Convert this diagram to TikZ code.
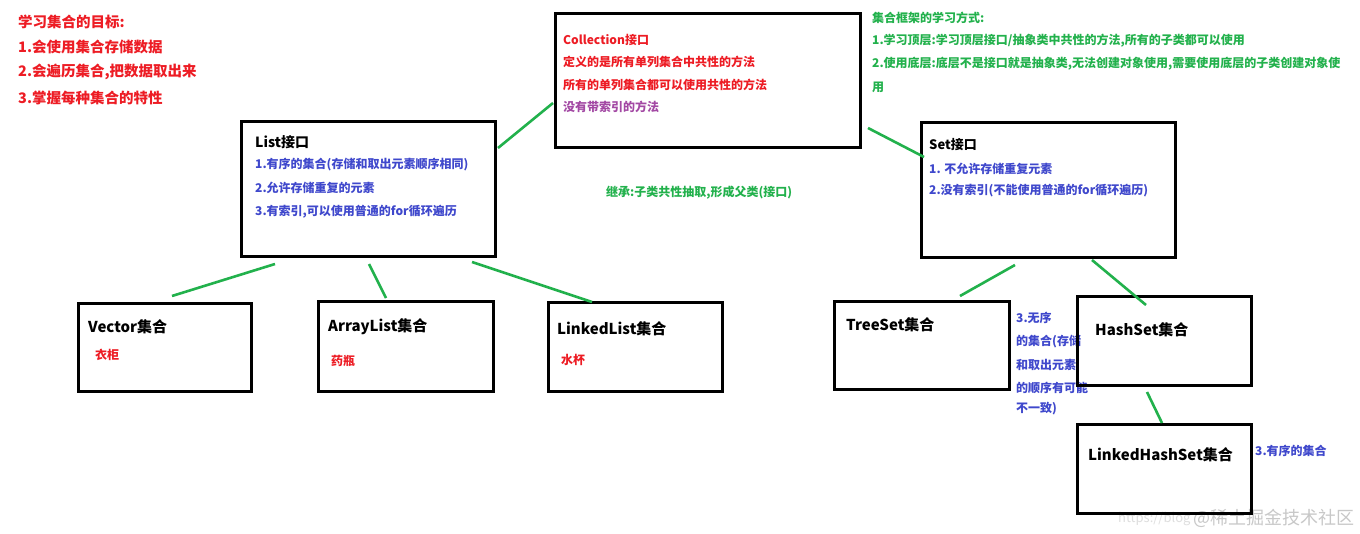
\documentclass[tikz,border=0pt]{standalone}
\usepackage{fontspec}
\setmainfont{Noto Sans CJK SC}
\definecolor{pred}{RGB}{237,28,36}
\definecolor{pblue}{RGB}{63,72,204}
\definecolor{pgreen}{RGB}{34,177,76}
\definecolor{ppurple}{RGB}{163,73,164}
\definecolor{wmark}{RGB}{200,200,200}
\begin{document}
\begin{tikzpicture}[x=1pt,y=-1pt,
  box/.style={draw=black, line width=3pt, inner sep=0pt, fill=none},
  link/.style={draw=pgreen, line width=2.6pt},
  txt/.style={anchor=west, inner sep=0pt, font=\bfseries\fontsize{12}{14}\selectfont},
  head/.style={anchor=west, inner sep=0pt, text=black, font=\bfseries\fontsize{15}{17}\selectfont},
  goal/.style={anchor=west, inner sep=0pt, text=pred, font=\bfseries\fontsize{14.5}{17}\selectfont}]
\useasboundingbox (0,0) rectangle (1360,534);
\fill[white] (0,0) rectangle (1360,534);

% goals
\node[goal] (g0) at (18,22) {学习集合的目标:};
\node[goal] (g1) at (18,47) {1.会使用集合存储数据};
\node[goal] (g2) at (18,72) {2.会遍历集合,把数据取出来};
\node[goal] (g3) at (18,98) {3.掌握每种集合的特性};

% TreeSet/HashSet note (drawn under the HashSet box)
\node[txt, text=pblue] (n0) at (1016,318) {3.无序};
\node[txt, text=pblue] (n1) at (1016,342) {的集合(存储};
\node[txt, text=pblue] (n2) at (1016,365) {和取出元素};
\node[txt, text=pblue] (n3) at (1016,388) {的顺序有可能};
\node[txt, text=pblue] (n4) at (1016,409) {不一致)};
\node[txt, text=pblue] (n5) at (1255,451) {3.有序的集合};

% watermark
\node[anchor=west, inner sep=0pt, text=wmark!60, font=\fontsize{13}{15}\selectfont] (wm0) at (1118,519) {https://blog};
\node[anchor=west, inner sep=0pt, text=wmark, font=\fontsize{18}{20}\selectfont] (wm1) at (1193,518) {@稀土掘金技术社区};

% boxes
\node[box, minimum width=305pt, minimum height=134pt] (coll) at (707.5,81) {};
\node[box, minimum width=254pt, minimum height=135pt] (list) at (368,189.5) {};
\node[box, minimum width=254pt, minimum height=135pt] (set) at (1048,190.5) {};
\node[box, minimum width=173pt, minimum height=88pt] (vec) at (164.5,348) {};
\node[box, minimum width=175pt, minimum height=90pt] (arr) at (405.5,347) {};
\node[box, minimum width=174pt, minimum height=89pt] (lnk) at (635,347.5) {};
\node[box, minimum width=175pt, minimum height=88pt] (tree) at (921.5,346) {};
\node[box, minimum width=174pt, minimum height=89pt] (hash) at (1164,341.5) {};
\node[box, minimum width=174pt, minimum height=89pt] (lhs) at (1164,468.5) {};

% Collection text
\node[txt, text=pred] (c0) at (563,40) {Collection接口};
\node[txt, text=pred] (c1) at (563,62) {定义的是所有单列集合中共性的方法};
\node[txt, text=pred] (c2) at (563,85) {所有的单列集合都可以使用共性的方法};
\node[txt, text=ppurple] (c3) at (563,107) {没有带索引的方法};

% learning approach
\node[txt, text=pgreen] (w0) at (872,18) {集合框架的学习方式:};
\node[txt, text=pgreen] (w1) at (872,41) {1.学习顶层:学习顶层接口/抽象类中共性的方法,所有的子类都可以使用};
\node[txt, text=pgreen] (w2) at (872,64) {2.使用底层:底层不是接口就是抽象类,无法创建对象使用,需要使用底层的子类创建对象使};
\node[txt, text=pgreen] (w3) at (872,87) {用};

% List text
\node[head, font=\bfseries\fontsize{14}{16}\selectfont] (l0) at (255,142) {List接口};
\node[txt, text=pblue] (l1) at (255,165) {1.有序的集合(存储和取出元素顺序相同)};
\node[txt, text=pblue] (l2) at (255,188) {2.允许存储重复的元素};
\node[txt, text=pblue] (l3) at (255,212) {3.有索引,可以使用普通的for循环遍历};

% Set text
\node[head, font=\bfseries\fontsize{13}{15}\selectfont] (s0) at (929,145) {Set接口};
\node[txt, text=pblue] (s1) at (929,169) {1. 不允许存储重复元素};
\node[txt, text=pblue] (s2) at (929,191) {2.没有索引(不能使用普通的for循环遍历)};

% inheritance note
\node[txt, text=pgreen] (inh) at (606,193) {继承:子类共性抽取,形成父类(接口)};

% leaf labels
\node[head] (v0) at (88,327) {Vector集合};
\node[txt, text=pred] (v1) at (95,355) {衣柜};
\node[head] (a0) at (328,327) {ArrayList集合};
\node[txt, text=pred] (a1) at (331,361) {药瓶};
\node[head] (k0) at (557,329) {LinkedList集合};
\node[txt, text=pred] (k1) at (561,360) {水杯};
\node[head] (t0) at (846,325) {TreeSet集合};
\node[head] (h0) at (1095,330) {HashSet集合};
\node[head] (lh0) at (1088,455) {LinkedHashSet集合};

% connector end points
\coordinate (cl1) at (498,148); \coordinate (cl2) at (553,103);
\coordinate (cs1) at (868,128); \coordinate (cs2) at (924,157);
\coordinate (lv1) at (275,264); \coordinate (lv2) at (172,296);
\coordinate (la1) at (369,264); \coordinate (la2) at (386,298);
\coordinate (lk1) at (472,262); \coordinate (lk2) at (592,302);
\coordinate (st1) at (1015,265); \coordinate (st2) at (960,296);
\coordinate (sh1) at (1092,260); \coordinate (sh2) at (1146,305);
\coordinate (hl1) at (1147,392); \coordinate (hl2) at (1162,423);

\draw[link] (cl1) -- (cl2);
\draw[link] (cs1) -- (cs2);
\draw[link] (lv1) -- (lv2);
\draw[link] (la1) -- (la2);
\draw[link] (lk1) -- (lk2);
\draw[link] (st1) -- (st2);
\draw[link] (sh1) -- (sh2);
\draw[link] (hl1) -- (hl2);
\end{tikzpicture}
\end{document}
